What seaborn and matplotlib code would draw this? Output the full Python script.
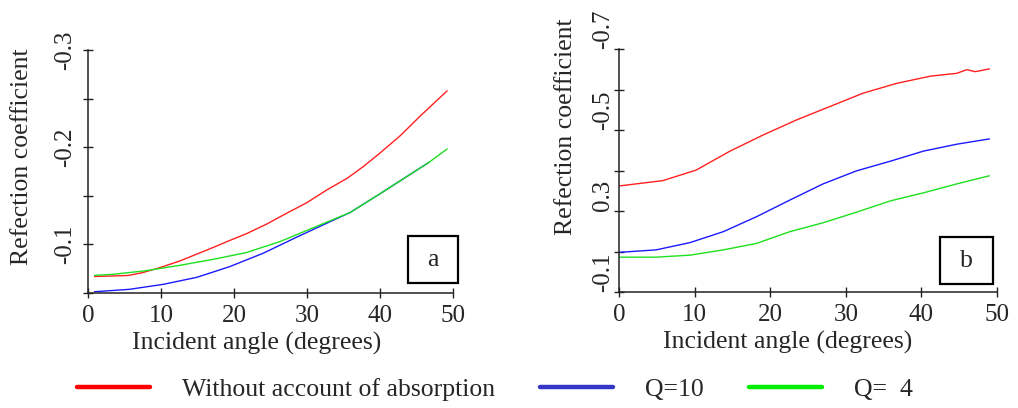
import numpy as np
import pandas as pd
import matplotlib
matplotlib.use("Agg")
import matplotlib.pyplot as plt
import seaborn as sns
from matplotlib.lines import Line2D
from matplotlib.patches import Rectangle

# ---------------- data ----------------
SERIES = ["Without account of absorption", "Q=10", "Q=  4"]
COLORS = ["#ff2020", "#1a1aff", "#1ee01e"]
LEGEND_COLORS = ["#ff0000", "#3535c8", "#00ee00"]

# Panel a
a_red_angle = [0.9, 5.5, 7.5, 9.8, 12.6, 14.9, 17.2, 19.4, 21.7, 24.5, 27.2, 30.0,
               32.7, 35.5, 37.7, 40.0, 42.8, 45.5, 49.2]
a_red_val = [-0.067, -0.068, -0.071, -0.076, -0.083, -0.090, -0.097, -0.104, -0.111,
             -0.121, -0.132, -0.143, -0.156, -0.168, -0.180, -0.194, -0.212, -0.232, -0.258]
a_blue_angle = [0.9, 5.7, 10.3, 14.9, 19.4, 24.0, 28.6, 33.2, 35.9, 40.0, 46.7]
a_blue_val = [-0.0513, -0.0538, -0.0589, -0.0661, -0.0771, -0.0909, -0.1075, -0.1235,
              -0.1328, -0.1521, -0.1844]
a_green_angle = [0.9, 3.4, 8.0, 12.6, 17.2, 21.7, 26.3, 30.4, 35.9, 40.0, 46.7, 49.2]
a_green_val = [-0.0682, -0.0692, -0.0730, -0.0785, -0.0847, -0.0916, -0.1029, -0.1157,
               -0.1328, -0.1521, -0.1844, -0.1982]

# Panel b
b_red_angle = [0.1, 5.8, 10.2, 14.7, 19.1, 23.5, 27.9, 32.3, 36.7, 41.2, 44.7, 46.0, 47.1, 47.7, 49.0]
b_red_val = [-0.362, -0.375, -0.401, -0.448, -0.488, -0.525, -0.558, -0.591, -0.615,
             -0.633, -0.640, -0.649, -0.644, -0.646, -0.651]
b_blue_angle = [0.1, 4.9, 9.4, 13.8, 18.2, 22.6, 27.0, 31.4, 35.9, 40.3, 44.7, 49.0]
b_blue_val = [-0.198, -0.204, -0.222, -0.249, -0.286, -0.327, -0.367, -0.399, -0.423,
              -0.448, -0.465, -0.478]
b_green_angle = [0.1, 4.9, 9.4, 13.8, 18.2, 22.6, 27.0, 31.4, 35.9, 40.3, 44.7, 49.0]
b_green_val = [-0.186, -0.186, -0.191, -0.204, -0.220, -0.249, -0.271, -0.297, -0.325,
               -0.345, -0.367, -0.387]

x_ticks = [0, 10, 20, 30, 40, 50]
x_ticklabels = ["0", "10", "20", "30", "40", "50"]
a_yticks = [-0.3, -0.25, -0.2, -0.15, -0.1, -0.05]
a_yticklabels = ["-0.3", "", "-0.2", "", "-0.1", ""]
b_yticks = [-0.7, -0.6, -0.5, -0.4, -0.3, -0.2, -0.1]
b_yticklabels = ["-0.7", "", "-0.5", "", "0.3", "", "-0.1"]

x_label = "Incident angle (degrees)"
y_label = "Refection coefficient"
panel_tags = ["a", "b"]


def build(angles, values):
    frames = []
    for name, x, y in zip(SERIES, angles, values):
        frames.append(pd.DataFrame({"angle": x, "value": y, "series": name}))
    return pd.concat(frames, ignore_index=True)


df_a = build([a_red_angle, a_blue_angle, a_green_angle], [a_red_val, a_blue_val, a_green_val])
df_b = build([b_red_angle, b_blue_angle, b_green_angle], [b_red_val, b_blue_val, b_green_val])

# ---------------- style ----------------
sns.set_style("ticks")
plt.rcParams["font.family"] = ["Liberation Serif", "DejaVu Serif"]
plt.rcParams["axes.edgecolor"] = "#222222"
plt.rcParams["axes.linewidth"] = 1.1

TICK_FS = 18
LABEL_FS = 18.5

fig = plt.figure(figsize=(10.18, 4.08), dpi=100)
ax_a = fig.add_axes([88 / 1018, 1 - 293 / 408, 365 / 1018, 243 / 408])
ax_b = fig.add_axes([619 / 1018, 1 - 292 / 408, 378 / 1018, 243 / 408])

palette = dict(zip(SERIES, COLORS))

configs = [
    (ax_a, df_a, (-0.05, -0.3), a_yticks, a_yticklabels, "center", (-0.152, 0.56), (0.463, -0.162),
     (0.877, 0.041, 0.137, 0.193), 5),
    (ax_b, df_b, (-0.1, -0.7), b_yticks, b_yticklabels, "bottom", (-0.112, 0.68), (0.447, -0.162),
     (0.849, 0.033, 0.140, 0.193), 0),
]

for (ax, df, ylim, yt, ytl, va, ylab_pos, xlab_pos, box, ypad), tag in zip(configs, panel_tags):
    sns.lineplot(data=df, x="angle", y="value", hue="series", palette=palette,
                 hue_order=SERIES, ax=ax, legend=False, linewidth=1.0, sort=False,
                 estimator=None)
    ax.set_xlim(0, 50)
    ax.set_ylim(*ylim)
    ax.set_xticks(x_ticks)
    ax.set_xticklabels(x_ticklabels, fontsize=TICK_FS)
    ax.set_yticks(yt)
    ax.set_yticklabels(ytl, fontsize=TICK_FS, rotation=90, va=va)
    ax.tick_params(axis="both", direction="inout", length=7, width=1.0, color="#222222")
    ax.tick_params(axis="x", pad=5)
    ax.tick_params(axis="y", pad=ypad)
    for s in ["top", "right"]:
        ax.spines[s].set_visible(False)
    ax.set_xlabel(x_label, fontsize=LABEL_FS)
    ax.set_ylabel(y_label, fontsize=LABEL_FS)
    ax.yaxis.set_label_coords(*ylab_pos)
    ax.xaxis.set_label_coords(*xlab_pos)
    rect = Rectangle((box[0], box[1]), box[2], box[3], transform=ax.transAxes,
                     fill=False, edgecolor="black", linewidth=1.6, clip_on=False)
    ax.add_patch(rect)
    ax.text(box[0] + box[2] / 2, box[1] + box[3] / 2, tag, transform=ax.transAxes,
            ha="center", va="center", fontsize=LABEL_FS)

handles = [Line2D([0], [0], color=c, linewidth=3.2) for c in LEGEND_COLORS]
fig.legend(handles, SERIES, loc="center", bbox_to_anchor=(0.486, 0.045), ncol=3,
           frameon=False, fontsize=LABEL_FS, handlelength=2.84, handletextpad=1.25,
           columnspacing=1.75)

fig.savefig("out.png", dpi=100)
